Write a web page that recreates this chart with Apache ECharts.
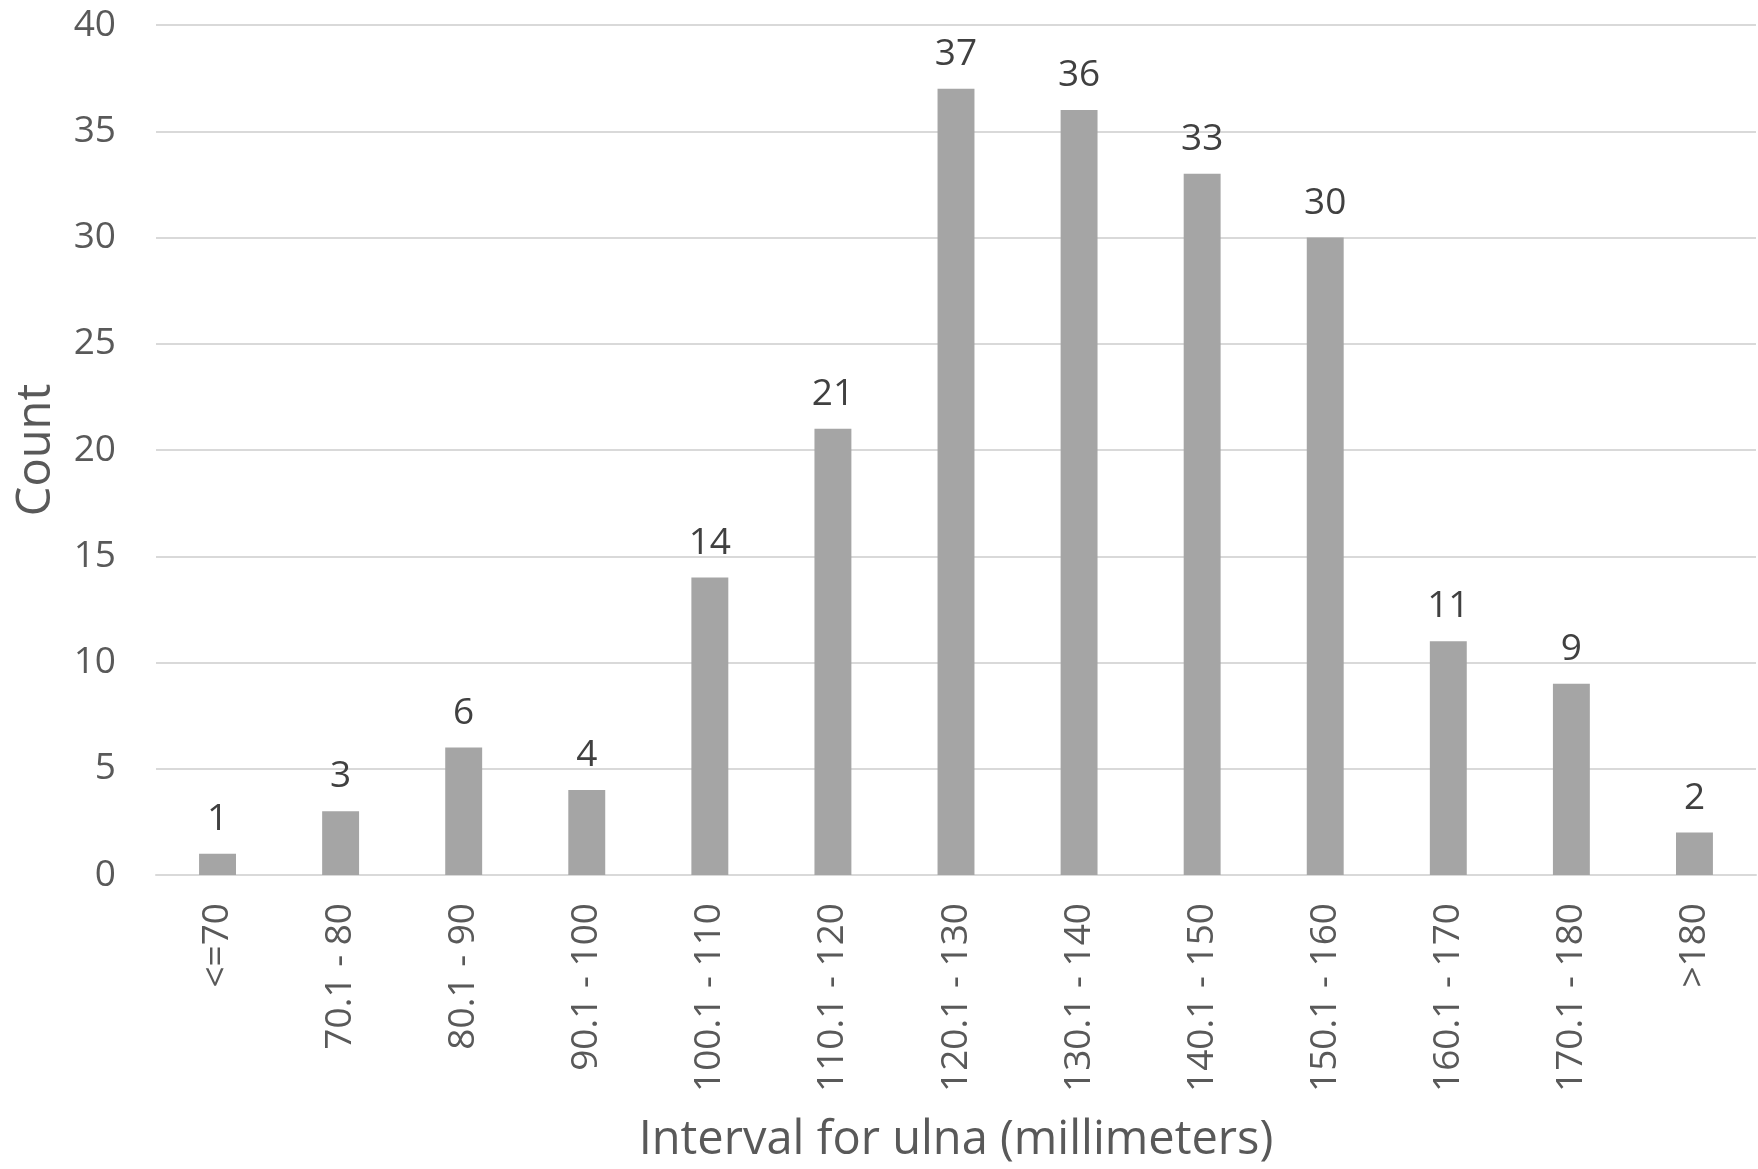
<!DOCTYPE html>
<html>
<head>
<meta charset="utf-8">
<script src="https://cdn.jsdelivr.net/npm/echarts@6/dist/echarts.min.js"></script>
<style>
html,body{margin:0;padding:0;background:#fff;}
#chart{width:1758px;height:1169px;}
</style>
</head>
<body>
<div id="chart"></div>
<script>
const categories = ['<=70','70.1 - 80','80.1 - 90','90.1 - 100','100.1 - 110','110.1 - 120','120.1 - 130','130.1 - 140','140.1 - 150','150.1 - 160','160.1 - 170','170.1 - 180','>180'];
const counts = [1,3,6,4,14,21,37,36,33,30,11,9,2];
const yTicks = {min:0, max:40, interval:5};
const xTitle = 'Interval for ulna (millimeters)';
const yTitle = 'Count';

const chart = echarts.init(document.getElementById('chart'), null, {renderer:'canvas'});
const font = '"Open Sans", sans-serif';
chart.setOption({
  animation:false,
  backgroundColor:'#ffffff',
  grid:{left:156, right:2, top:25, bottom:294, containLabel:false},
  xAxis:{
    type:'category',
    data:categories,
    name:xTitle,
    nameLocation:'middle',
    nameGap:242,
    nameTextStyle:{fontFamily:font, fontSize:47, color:'#595959'},
    axisTick:{show:false},
    axisLine:{lineStyle:{color:'#d9d9d9', width:2}},
    axisLabel:{rotate:90, margin:28, fontFamily:font, fontSize:37, color:'#595959', interval:0}
  },
  yAxis:{
    type:'value',
    min:yTicks.min, max:yTicks.max, interval:yTicks.interval,
    name:yTitle,
    nameLocation:'middle',
    nameRotate:90,
    nameGap:96,
    nameTextStyle:{fontFamily:font, fontSize:47, color:'#595959'},
    axisLine:{show:false},
    axisTick:{show:false},
    axisLabel:{margin:40, fontFamily:font, fontSize:37, color:'#595959'},
    splitLine:{lineStyle:{color:'#d9d9d9', width:2}}
  },
  series:[{
    type:'bar',
    data:counts,
    barWidth:'30%',
    itemStyle:{color:'#a5a5a5'},
    label:{show:true, position:'top', distance:16, fontFamily:font, fontSize:37, color:'#404040'}
  }]
});
</script>
</body>
</html>
